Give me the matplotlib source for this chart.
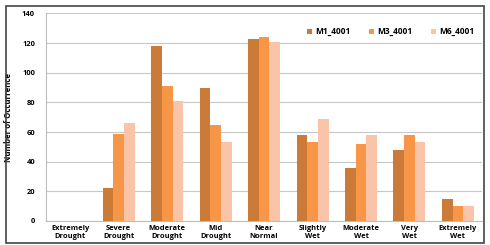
import numpy as np
import matplotlib.pyplot as plt
from matplotlib.patches import Rectangle

categories = ['Extremely\nDrought', 'Severe\nDrought', 'Moderate\nDrought', 'Mid\nDrought',
              'Near\nNormal', 'Slightly\nWet', 'Moderate\nWet', 'Very\nWet', 'Extremely\nWet']
m1 = [0, 22, 118, 90, 123, 58, 36, 48, 15]
m3 = [0, 59, 91, 65, 124, 53, 52, 58, 10]
m6 = [0, 66, 81, 53, 121, 69, 58, 53, 10]
series_names = ['M1_4001', 'M3_4001', 'M6_4001']
colors = ['#cc7a38', '#f79646', '#fac4a8']

plt.rcParams['font.family'] = ['Open Sans', 'DejaVu Sans']

fig = plt.figure(figsize=(4.9, 2.45), dpi=100)
ax = fig.add_axes([0.094, 0.098, 0.89, 0.847])

x = np.arange(len(categories))
w = 0.22
for i, (vals, name, c) in enumerate(zip([m1, m3, m6], series_names, colors)):
    ax.bar(x + (i - 1) * w, vals, width=w, color=c, label=name, zorder=3)

ax.set_xlim(-0.5, len(categories) - 0.5)
ax.set_ylim(0, 140)
ax.set_yticks(range(0, 141, 20))
ax.set_xticks(x)
ax.set_xticklabels(categories, fontsize=5.4, fontweight='bold', linespacing=1.15)
ax.tick_params(axis='y', labelsize=5.4, length=0, pad=8)
ax.tick_params(axis='x', length=0, pad=3)
for lab in ax.get_yticklabels():
    lab.set_fontweight('bold')
ax.grid(axis='y', color='#c8c8c8', linewidth=0.8, zorder=0)
for s in ['top', 'right']:
    ax.spines[s].set_visible(False)
ax.spines['left'].set_color('#bdbdbd')
ax.spines['bottom'].set_color('#bdbdbd')
ax.set_ylabel('Number of Occurrence', fontsize=5.6, fontweight='bold')
ax.yaxis.set_label_coords(-0.075, 0.5)

leg = ax.legend(loc='upper right', bbox_to_anchor=(1.0, 0.97), ncol=3, frameon=False,
                handlelength=0.6, handleheight=0.6, columnspacing=2.2,
                handletextpad=0.4, prop={'weight': 'bold', 'size': 6})

fig.patches.append(Rectangle((6 / 490, 2 / 245), 478 / 490, 237 / 245, transform=fig.transFigure,
                             fill=False, edgecolor='#444444', linewidth=1.2))

fig.savefig('out.png', dpi=100)
